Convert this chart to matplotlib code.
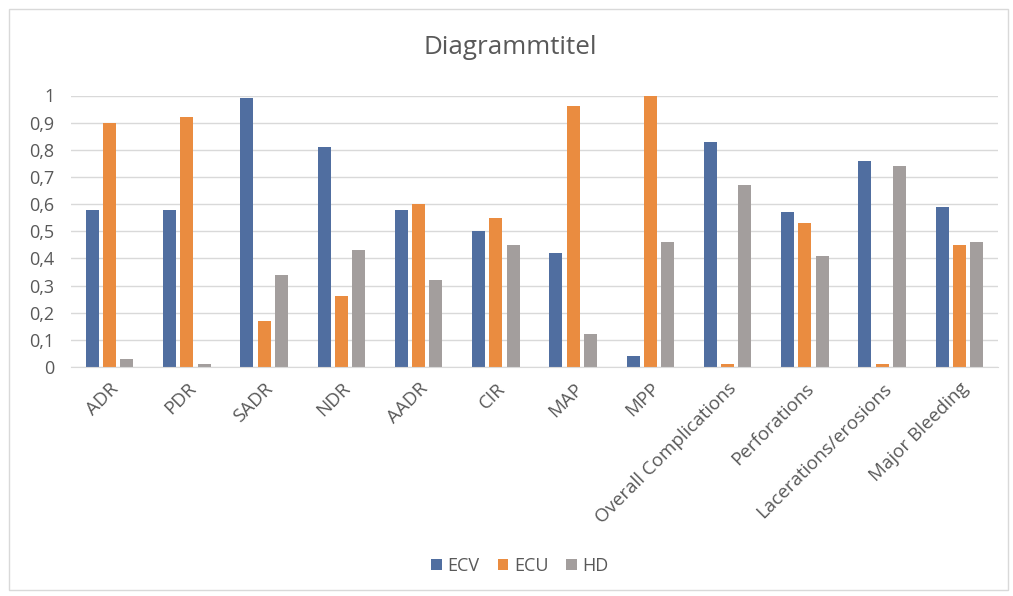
import matplotlib
matplotlib.use("Agg")
import matplotlib.pyplot as plt
import numpy as np
from matplotlib.patches import Rectangle

categories = ["ADR", "PDR", "SADR", "NDR", "AADR", "CIR", "MAP", "MPP",
              "Overall Complications", "Perforations", "Lacerations/erosions",
              "Major Bleeding"]
ecv = [0.58, 0.58, 0.99, 0.81, 0.58, 0.50, 0.42, 0.04, 0.83, 0.57, 0.76, 0.59]
ecu = [0.90, 0.92, 0.17, 0.26, 0.60, 0.55, 0.96, 1.00, 0.01, 0.53, 0.01, 0.45]
hd = [0.03, 0.01, 0.34, 0.43, 0.32, 0.45, 0.12, 0.46, 0.67, 0.41, 0.74, 0.46]
series_names = ["ECV", "ECU", "HD"]
yticks = [0.0, 0.1, 0.2, 0.3, 0.4, 0.5, 0.6, 0.7, 0.8, 0.9, 1.0]
title = "Diagrammtitel"

colors = ["#506EA0", "#EA8C40", "#A39E9D"]
text_color = "#595959"
font = ["Open Sans", "DejaVu Sans"]
plt.rcParams["font.family"] = font

W, H = 1013, 596
fig = plt.figure(figsize=(W / 100, H / 100), dpi=100)

# chart-area border
fig.add_artist(Rectangle((9 / W, 6 / H), (W - 14) / W, (H - 15) / H,
                         transform=fig.transFigure, fill=False,
                         edgecolor="#D9D9D9", linewidth=1.0))

left, right = 71, 998
y0, y1 = 367, 95.5
ax = fig.add_axes([left / W, (H - y0) / H, (right - left) / W, (y0 - y1) / H])

x = np.arange(len(categories))
step = 0.224
width = 0.168
for i, (vals, name, c) in enumerate(zip([ecv, ecu, hd], series_names, colors)):
    ax.bar(x + (i - 1) * step, vals, width, color=c, label=name, zorder=3)

ax.set_xlim(-0.5, len(categories) - 0.5)
ax.set_ylim(0, 1)
ax.set_yticks(yticks)
ax.set_yticklabels([("%g" % v).replace(".", ",") for v in yticks])
ax.yaxis.grid(True, color="#D9D9D9", linewidth=1.0, zorder=0)
for s in ["top", "right", "left"]:
    ax.spines[s].set_visible(False)
ax.spines["bottom"].set_color("#D9D9D9")
ax.spines["bottom"].set_zorder(4)
ax.tick_params(axis="both", length=0, labelsize=13, colors=text_color, pad=12)
ax.tick_params(axis="x", pad=9, labelsize=13.5)
ax.set_xticks(x)
ax.set_xticklabels(categories, rotation=45, ha="right", va="top",
                   rotation_mode="anchor")

fig.text(510 / W, 1 - 48 / H, title, ha="center", va="center",
         fontsize=18.7, color=text_color)

fig.legend(loc="center", bbox_to_anchor=(520 / W, 1 - 566 / H), ncol=3,
           frameon=False, fontsize=13, labelcolor=text_color,
           handlelength=0.6, handleheight=0.6, handletextpad=0.3,
           columnspacing=1.0)

fig.savefig("out.png", dpi=100, facecolor="white")
